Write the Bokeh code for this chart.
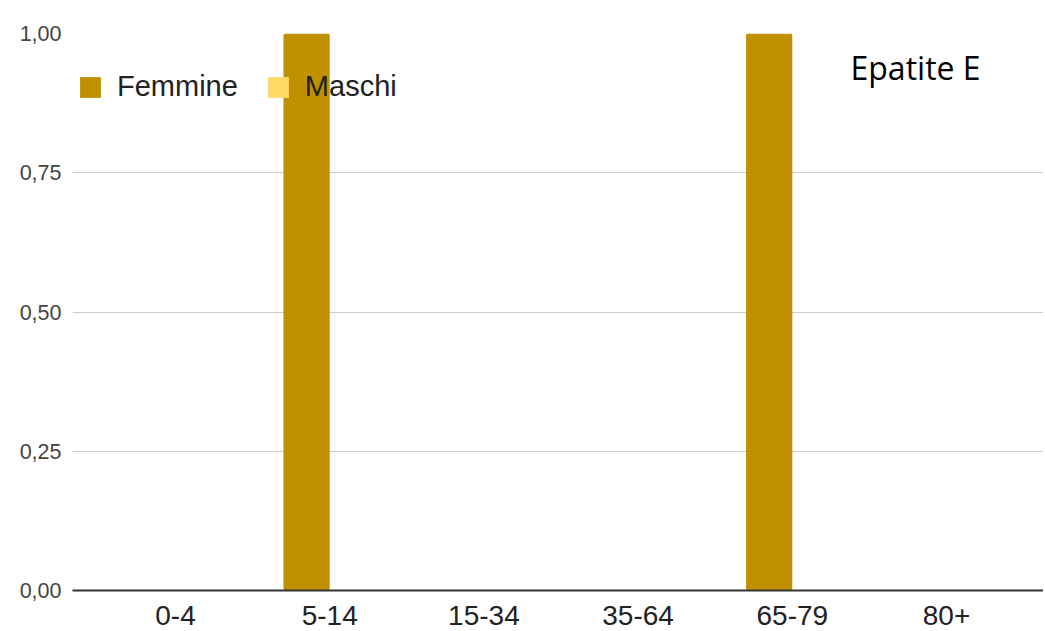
from bokeh.plotting import figure
from bokeh.models import ColumnDataSource, Range1d, FixedTicker, Legend, LegendItem, Label
from bokeh.transform import dodge
from bokeh.embed import file_html
from bokeh.resources import INLINE

categories = ["0-4", "5-14", "15-34", "35-64", "65-79", "80+"]
femmine = [0, 1, 0, 0, 1, 0]
maschi = [0, 0, 0, 0, 0, 0]
y_ticks = [0, 0.25, 0.5, 0.75, 1.0]
y_tick_labels = ["0,00", "0,25", "0,50", "0,75", "1,00"]
title_text = "Epatite E"

idx = list(range(len(categories)))
src = ColumnDataSource(dict(idx=idx, femmine=femmine, maschi=maschi))

p = figure(width=1043, height=629, output_backend="svg", toolbar_location=None,
           x_range=Range1d(-0.668, 5.629), y_range=Range1d(0, 1),
           min_border_left=72, min_border_right=0, min_border_top=33, min_border_bottom=39)
p.outline_line_color = None

rf = p.vbar(x=dodge("idx", -0.15, range=p.x_range), top="femmine", width=0.3, source=src,
            fill_color="#BF9000", line_color=None, border_radius=2)
rm = p.vbar(x=dodge("idx", 0.15, range=p.x_range), top="maschi", width=0.3, source=src,
            fill_color="#FFD966", line_color=None, border_radius=2)

# x axis
p.xaxis.ticker = FixedTicker(ticks=idx)
p.xaxis.major_label_overrides = {i: c for i, c in zip(idx, categories)}
p.xaxis.major_label_text_font = "Liberation Sans"
p.xaxis.major_label_text_font_size = "28px"
p.xaxis.major_label_text_color = "#222222"
p.xaxis.major_label_standoff = 15
p.xaxis.major_tick_out = 0
p.xaxis.major_tick_in = 0
p.xaxis.major_tick_line_color = None
p.xaxis.minor_tick_line_color = None
p.xaxis.axis_line_color = "#333333"
p.xaxis.axis_line_width = 2
p.xgrid.grid_line_color = None

# y axis
p.yaxis.ticker = FixedTicker(ticks=y_ticks)
p.yaxis.major_label_overrides = dict(zip(y_ticks, y_tick_labels))
p.yaxis.major_label_text_font = "Liberation Sans"
p.yaxis.major_label_text_font_size = "21.5px"
p.yaxis.major_label_text_color = "#444444"
p.yaxis.major_label_standoff = 11
p.yaxis.major_tick_out = 0
p.yaxis.major_tick_in = 0
p.yaxis.major_tick_line_color = None
p.yaxis.minor_tick_line_color = None
p.yaxis.axis_line_color = None
p.ygrid.grid_line_color = "#cccccc"
p.ygrid.grid_line_width = 1
p.ygrid.ticker = FixedTicker(ticks=y_ticks)

legend = Legend(items=[LegendItem(label="Femmine", renderers=[rf]),
                       LegendItem(label="Maschi", renderers=[rm])],
                orientation="horizontal", location=(5, 487),
                glyph_width=26, glyph_height=26, label_height=26, label_standoff=14,
                spacing=27, padding=0, margin=0,
                label_text_font="Liberation Sans", label_text_font_size="29px",
                label_text_color="#222222",
                background_fill_alpha=0, border_line_color=None)
p.add_layout(legend, "center")

p.add_layout(Label(x=778, y=523, x_units="screen", y_units="screen", text=title_text,
                   text_font="Open Sans", text_font_size="32px", text_color="#000000",
                   text_baseline="alphabetic"))

open("out.html", "w").write(file_html(p, INLINE))
